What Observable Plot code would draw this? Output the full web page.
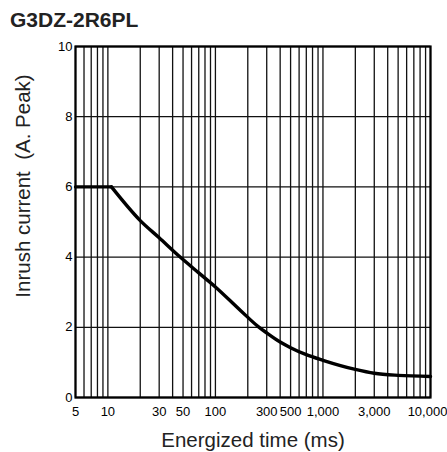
<!DOCTYPE html>
<html>
<head>
<meta charset="utf-8">
<script src="https://cdn.jsdelivr.net/npm/d3@7"></script>
<script src="https://cdn.jsdelivr.net/npm/@observablehq/plot@0.6"></script>
<style>
  body { margin: 0; background: #fff; }
  #wrap { position: relative; width: 447px; height: 452px; font-family: "Liberation Sans", Arial, sans-serif; }
  #title { position: absolute; left: 10px; top: 8px; font-size: 21px; font-weight: bold; color: #222; line-height: 24px; }
  svg text { white-space: pre; }
</style>
</head>
<body>
<div id="wrap"></div>
<script>
const title = "G3DZ-2R6PL";
const xLabel = "Energized time (ms)";
const yLabel = "Inrush current  (A. Peak)";
const timeMs = [5, 10.8, 20, 30, 47, 70, 100, 171, 250, 300, 400, 500, 700, 1000, 2000, 3000, 5000, 10000];
const current = [6, 6, 5.04, 4.55, 4.0, 3.55, 3.15, 2.48, 2.02, 1.84, 1.58, 1.42, 1.22, 1.06, 0.80, 0.69, 0.63, 0.60];
const cornerTime = 10.8;
const xTicks = [5, 10, 30, 50, 100, 300, 500, 1000, 3000, 10000];
const xGrid = [5,6,7,8,9,10,20,30,40,50,60,70,80,90,100,200,300,400,500,600,700,800,900,1000,2000,3000,4000,5000,6000,7000,8000,9000,10000];
const yTicks = [0, 2, 4, 6, 8, 10];

const data = timeMs.map((t, i) => ({t, c: current[i]}));
const flat = data.filter(d => d.t <= cornerTime);
const decline = data.filter(d => d.t >= cornerTime);
const fmt = d3.format(",");
const lastTick = xTicks[xTicks.length - 1];

const chart = Plot.plot({
  width: 447,
  height: 452,
  marginLeft: 75,
  marginRight: 17,
  marginTop: 46,
  marginBottom: 55,
  style: {fontFamily: "'Liberation Sans', Arial, sans-serif", fontSize: "13px", color: "#000", background: "#fff"},
  x: {type: "log", domain: [5, 10000]},
  y: {domain: [0, 10]},
  marks: [
    Plot.ruleX(xGrid, {stroke: "#111", strokeWidth: 1.3}),
    Plot.ruleY(yTicks, {stroke: "#111", strokeWidth: 1.3}),
    Plot.frame({stroke: "#000", strokeWidth: 2.2}),
    Plot.axisX({ticks: [], label: xLabel, labelAnchor: "center", labelArrow: "none", labelOffset: 49, fontSize: 20.5}),
    Plot.text(xTicks.filter(d => d !== lastTick), {x: d => d, frameAnchor: "bottom", lineAnchor: "middle", dy: 14, text: fmt, fontSize: 13, fill: "#000"}),
    Plot.text([lastTick], {x: d => d, frameAnchor: "bottom", lineAnchor: "middle", dy: 14, dx: -3, text: fmt, fontSize: 13, fill: "#000"}),
    Plot.axisY({ticks: yTicks, tickSize: 0, tickPadding: 3, fontSize: 13,
      label: yLabel, labelAnchor: "center", labelArrow: "none", labelOffset: 60}),
    Plot.line(flat, {x: "t", y: "c", stroke: "#000", strokeWidth: 3.4}),
    Plot.line(decline, {x: "t", y: "c", stroke: "#000", strokeWidth: 3.4, curve: "monotone-x"})
  ]
});
const wrap = document.getElementById("wrap");
wrap.appendChild(chart);
chart.style.position = "absolute";
chart.style.left = "0";
chart.style.top = "0";
d3.select(chart).selectAll("[aria-label='x-axis label'] text, [aria-label='y-axis label'] text")
  .style("font-size", "20.5px").style("fill", "#222");
d3.select(chart).selectAll("[aria-label='y-axis label'] text").each(function() {
  const tr = this.getAttribute("transform") || "";
  this.setAttribute("transform", "translate(0,-36) " + tr);
});
const t = document.createElement("div");
t.id = "title";
t.textContent = title;
wrap.appendChild(t);
</script>
</body>
</html>
